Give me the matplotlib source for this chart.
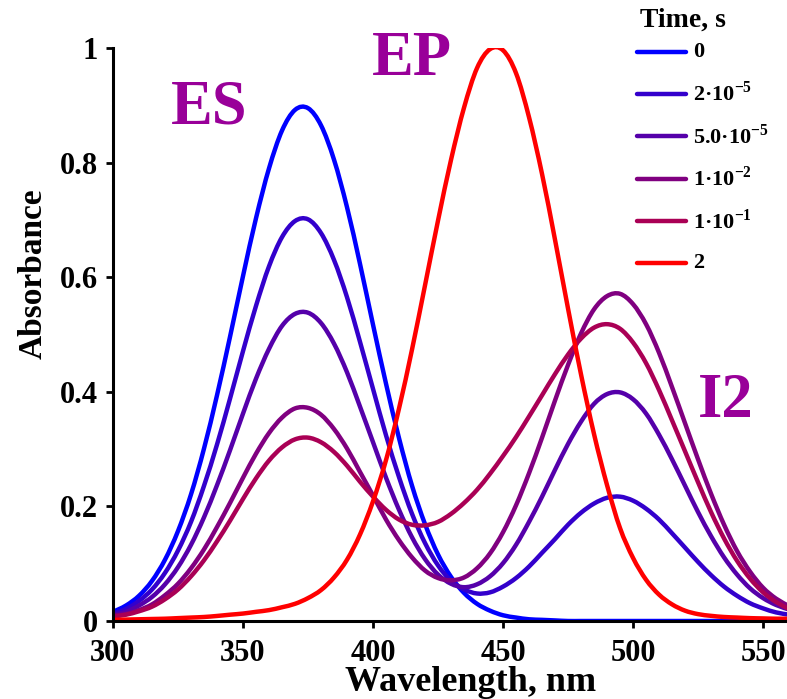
import matplotlib
matplotlib.use("Agg")
import matplotlib.pyplot as plt
from matplotlib.lines import Line2D
from matplotlib.path import Path
from matplotlib.patches import PathPatch

plt.rcParams['font.family'] = ['Liberation Serif', 'DejaVu Serif']
plt.rcParams['font.weight'] = 'bold'
plt.rcParams['mathtext.fontset'] = 'custom'
plt.rcParams['mathtext.rm'] = 'Liberation Serif:bold'
plt.rcParams['mathtext.bf'] = 'Liberation Serif:bold'

# wavelength grid, nm
wavelength = list(range(300, 561, 5))

# absorbance, one list per time
a_0 = [0.016, 0.027, 0.044, 0.070, 0.107, 0.157, 0.221, 0.301, 0.394, 0.496,
       0.602, 0.703, 0.790, 0.856, 0.892, 0.895, 0.865, 0.805, 0.722, 0.623,
       0.517, 0.414, 0.319, 0.236, 0.169, 0.116, 0.077, 0.049, 0.030, 0.018,
       0.010, 0.006, 0.003, 0.002, 0.001, 0.0, 0.0, 0.0, 0.0, 0.0,
       0.0, 0.0, 0.0, 0.0, 0.0, 0.0, 0.0, 0.0, 0.0, 0.0,
       0.0, 0.0, 0.0]
a_2e5 = [0.013, 0.021, 0.035, 0.055, 0.084, 0.123, 0.173, 0.236, 0.308, 0.388,
         0.471, 0.550, 0.619, 0.670, 0.698, 0.701, 0.677, 0.630, 0.565, 0.487,
         0.405, 0.324, 0.251, 0.187, 0.136, 0.097, 0.070, 0.055, 0.048, 0.050,
         0.060, 0.075, 0.095, 0.119, 0.143, 0.168, 0.189, 0.205, 0.215, 0.217,
         0.210, 0.196, 0.177, 0.153, 0.128, 0.103, 0.080, 0.060, 0.044, 0.031,
         0.022, 0.015, 0.011]
a_5e5 = [0.011, 0.016, 0.027, 0.042, 0.064, 0.094, 0.133, 0.181, 0.237, 0.298,
         0.362, 0.423, 0.475, 0.515, 0.536, 0.538, 0.520, 0.484, 0.434, 0.374,
         0.312, 0.250, 0.194, 0.146, 0.108, 0.081, 0.065, 0.059, 0.064, 0.078,
         0.101, 0.133, 0.173, 0.217, 0.264, 0.309, 0.348, 0.379, 0.396, 0.399,
         0.387, 0.362, 0.325, 0.282, 0.236, 0.190, 0.148, 0.111, 0.081, 0.057,
         0.040, 0.028, 0.020]
a_1e2 = [0.009, 0.012, 0.019, 0.029, 0.045, 0.065, 0.092, 0.125, 0.164, 0.206,
         0.250, 0.292, 0.328, 0.355, 0.371, 0.372, 0.360, 0.335, 0.301, 0.260,
         0.219, 0.177, 0.141, 0.111, 0.088, 0.075, 0.071, 0.076, 0.092, 0.118,
         0.155, 0.202, 0.258, 0.320, 0.385, 0.447, 0.502, 0.544, 0.567, 0.571,
         0.553, 0.518, 0.468, 0.408, 0.345, 0.282, 0.222, 0.168, 0.122, 0.086,
         0.058, 0.039, 0.026]
a_1e1 = [0.008, 0.011, 0.017, 0.025, 0.038, 0.055, 0.078, 0.106, 0.139, 0.175,
         0.213, 0.249, 0.280, 0.303, 0.317, 0.320, 0.312, 0.295, 0.271, 0.243,
         0.217, 0.194, 0.177, 0.168, 0.167, 0.173, 0.187, 0.206, 0.229, 0.257,
         0.288, 0.321, 0.357, 0.394, 0.431, 0.465, 0.493, 0.512, 0.518, 0.510,
         0.486, 0.450, 0.403, 0.350, 0.296, 0.242, 0.190, 0.144, 0.105, 0.074,
         0.050, 0.033, 0.021]
a_2 = [0.002, 0.0025, 0.003, 0.0035, 0.004, 0.005, 0.006, 0.007, 0.0088, 0.011,
       0.013, 0.016, 0.019, 0.024, 0.030, 0.040, 0.054, 0.076, 0.107, 0.151,
       0.209, 0.281, 0.371, 0.474, 0.586, 0.699, 0.805, 0.896, 0.965, 0.998,
       0.996, 0.956, 0.879, 0.780, 0.665, 0.545, 0.430, 0.326, 0.237, 0.162,
       0.110, 0.072, 0.046, 0.029, 0.018, 0.012, 0.009, 0.007, 0.006, 0.005,
       0.0045, 0.004, 0.004]

series = [a_0, a_2e5, a_5e5, a_1e2, a_1e1, a_2]
time_labels = ["0", "2·10$^{-5}$", "5.0·10$^{-5}$", "1·10$^{-2}$", "1·10$^{-1}$", "2"]
colors = ["#0000FF", "#3300CC", "#5500AA", "#800080", "#AA0055", "#FF0000"]


def smoothed(x, y):
    # spreadsheet-style smoothed line: Bezier segments through the points
    pts = list(zip(x, y))
    n = len(pts)
    verts, codes = [pts[0]], [Path.MOVETO]
    for i in range(n - 1):
        p0 = pts[i - 1] if i > 0 else pts[i]
        p1, p2 = pts[i], pts[i + 1]
        p3 = pts[i + 2] if i + 2 < n else pts[i + 1]
        c1 = (p1[0] + (p2[0] - p0[0]) / 6, p1[1] + (p2[1] - p0[1]) / 6)
        c2 = (p2[0] - (p3[0] - p1[0]) / 6, p2[1] - (p3[1] - p1[1]) / 6)
        verts += [c1, c2, p2]
        codes += [Path.CURVE4] * 3
    return Path(verts, codes)


W, H = 787, 699
fig = plt.figure(figsize=(W / 100, H / 100), dpi=100)
ax = fig.add_axes([113 / W, 1 - 621 / H, (W - 113) / W, 573 / H])

for y, c in zip(series, colors):
    ax.add_patch(PathPatch(smoothed(wavelength, y), fill=False, edgecolor=c,
                           lw=3.2, capstyle="round", joinstyle="round"))

ax.set_xlim(300, 559.2)
ax.set_ylim(0, 1)
ax.set_xticks([300, 350, 400, 450, 500, 550])
ax.set_yticks([0, 0.2, 0.4, 0.6, 0.8, 1])
ax.set_yticklabels(["0", "0.2", "0.4", "0.6", "0.8", "1"])
for s in ["top", "right"]:
    ax.spines[s].set_visible(False)
for s in ["left", "bottom"]:
    ax.spines[s].set_linewidth(2.2)
ax.tick_params(direction="out", length=5, width=2, labelsize=22, pad=6)
ax.tick_params(axis="x", pad=8)
for lab in ax.get_xticklabels() + ax.get_yticklabels():
    lab.set_fontweight("bold")

ax.set_xlabel("Wavelength, nm", fontsize=26, fontweight="bold")
ax.xaxis.set_label_coords(0.531, -0.078)
ax.set_ylabel("Absorbance", fontsize=24, fontweight="bold")
ax.yaxis.set_label_coords(-0.096, 0.606)

# band names
fig.text(209.5 / W, 1 - 123 / H, "ES", fontsize=45, fontweight="bold",
         color="#990099", ha="center", va="baseline")
fig.text(412 / W, 1 - 75 / H, "EP", fontsize=45, fontweight="bold",
         color="#990099", ha="center", va="baseline")
fig.text(726 / W, 1 - 417 / H, "I2", fontsize=45, fontweight="bold",
         color="#990099", ha="center", va="baseline")

# legend
fig.text(640 / W, 1 - 20 / H, "Time, s", fontsize=20, fontweight="bold",
         ha="left", va="center")
rows = [51.7, 94, 136.3, 178.7, 221, 263.3]
for ry, lab, c in zip(rows, time_labels, colors):
    fig.add_artist(Line2D([637 / W, 686 / W], [1 - ry / H, 1 - ry / H],
                          color=c, lw=3.2, solid_capstyle="round",
                          transform=fig.transFigure))
    fig.text(693 / W, 1 - ry / H, lab, fontsize=16, fontweight="bold",
             ha="left", va="center")

fig.savefig("out.png", dpi=100)
